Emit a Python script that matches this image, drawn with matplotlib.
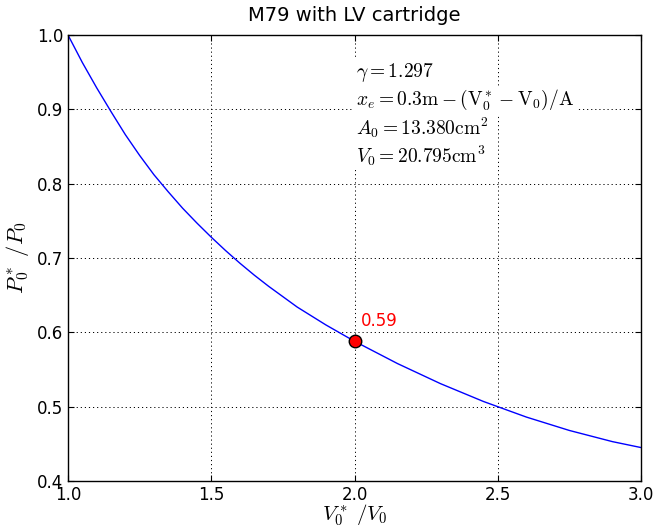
import matplotlib
matplotlib.use("Agg")
import matplotlib.pyplot as plt
import numpy as np

# values
v_ratio = [1.0, 1.05, 1.1, 1.15, 1.2, 1.25, 1.3, 1.35, 1.4, 1.45, 1.5,
           1.55, 1.6, 1.65, 1.7, 1.75, 1.8, 1.85, 1.9, 1.95, 2.0,
           2.05, 2.1, 2.15, 2.2, 2.25, 2.3, 2.35, 2.4, 2.45, 2.5,
           2.55, 2.6, 2.65, 2.7, 2.75, 2.8, 2.85, 2.9, 2.95, 3.0]
p_ratio = [1.000, 0.963, 0.929, 0.897, 0.866, 0.838, 0.812, 0.789, 0.767, 0.747, 0.728,
           0.710, 0.693, 0.677, 0.662, 0.648, 0.634, 0.622, 0.610, 0.599, 0.588,
           0.578, 0.568, 0.558, 0.549, 0.540, 0.531, 0.523, 0.515, 0.507, 0.500,
           0.493, 0.486, 0.480, 0.474, 0.468, 0.463, 0.458, 0.453, 0.449, 0.445]
mark_v = 2.0
mark_p = 0.588

xticks = [1.0, 1.5, 2.0, 2.5, 3.0]
yticks = [0.4, 0.5, 0.6, 0.7, 0.8, 0.9, 1.0]

plt.rcParams['mathtext.fontset'] = 'cm'
plt.rcParams['xtick.direction'] = 'in'
plt.rcParams['ytick.direction'] = 'in'
plt.rcParams['xtick.top'] = True
plt.rcParams['ytick.right'] = True

fig = plt.figure(figsize=(6.59, 5.28), dpi=100)
ax = fig.add_axes([0.1032, 0.089, 0.8695, 0.8447])

ax.plot(v_ratio, p_ratio, color='blue', lw=1.0)
ax.plot([mark_v], [mark_p], 'o', color='red', mec='black', ms=9)
ax.text(mark_v + 0.023, mark_p + 0.02, "%.2f" % mark_p, color='red', fontsize=12)

ax.set_xlim(1.0, 3.0)
ax.set_ylim(0.4, 1.0)
ax.set_xticks(xticks)
ax.set_yticks(yticks)
ax.xaxis.set_major_formatter(matplotlib.ticker.FormatStrFormatter('%.1f'))
ax.yaxis.set_major_formatter(matplotlib.ticker.FormatStrFormatter('%.1f'))
ax.tick_params(labelsize=12, length=4, width=0.8)
ax.grid(True, linestyle=(0, (1.2, 3)), color='black', lw=0.7)
for s in ax.spines.values():
    s.set_linewidth(1.0)

ax.set_title("M79 with LV cartridge", fontsize=14, pad=10)
ax.set_xlabel(r"$V_0^*\ /V_0$", fontsize=15, labelpad=-1)
ax.set_ylabel(r"$P_0^*\ /P_0$", fontsize=16, labelpad=4)

info = [r"$\gamma=1.297$",
        r"$x_e=0.3\mathrm{m}-(\mathrm{V_0^*}-\mathrm{V_0})/\mathrm{A}$",
        r"$A_0=13.380\mathrm{cm}^2$",
        r"$V_0=20.795\mathrm{cm}^3$"]
for i, line in enumerate(info):
    ax.text(2.005, 0.949 - i * 0.037, line, fontsize=14, va='center',
            bbox=dict(facecolor='white', edgecolor='none', pad=1.5))

fig.savefig("out.png", dpi=100)
